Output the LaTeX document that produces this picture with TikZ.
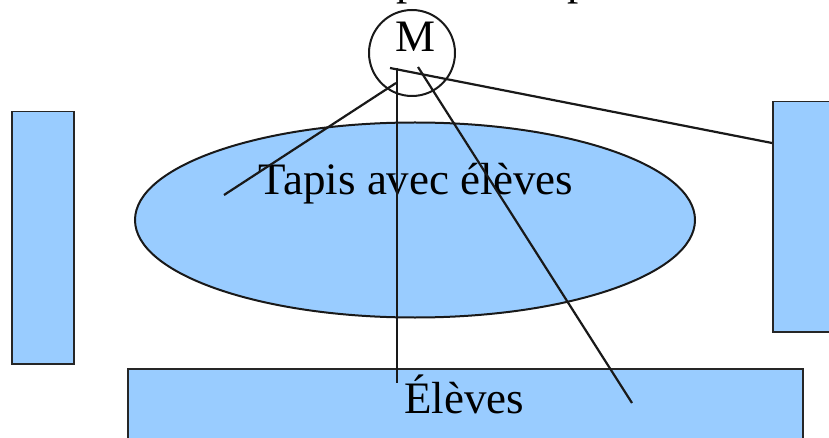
\documentclass[tikz,border=0pt]{standalone}
\usepackage{fontspec}
\setmainfont{Liberation Serif}
\usetikzlibrary{shapes.geometric}
\definecolor{skyfill}{HTML}{99CCFF}
\begin{document}
\begin{tikzpicture}[x=1pt,y=-1pt,
  zone/.style={draw=black!85, fill=skyfill, line width=1.5pt, inner sep=0pt, anchor=north west},
  lbl/.style={font=\fontsize{45}{45}\selectfont, inner sep=0pt, anchor=base},
  link/.style={line width=2.2pt, draw=black!90}]
\useasboundingbox (0,0) rectangle (829,438);
\clip (0,0) rectangle (829,438);
% partial text cut off at the top
\node[lbl, anchor=base west] (pa) at (396,-5) {p};
\node[lbl, anchor=base west] (pb) at (567,-5) {p};
% zones
\node[zone, minimum width=62pt, minimum height=252pt] (left) at (11,111) {};
\node[zone, minimum width=80pt, minimum height=230pt] (right) at (772,101) {};
\node[zone, minimum width=675pt, minimum height=90pt] (bottom) at (127,368) {};
\node[draw=black!90, fill=skyfill, line width=2pt, ellipse, inner sep=0pt,
      minimum width=560pt, minimum height=195pt] (tapis) at (415,220) {};
\node[lbl] (tapislbl) at (416,195) {Tapis avec élèves};
\node[lbl] (eleves) at (464,413) {Élèves};
% teacher
\node[draw=black!90, line width=2pt, circle, minimum size=86pt, inner sep=0pt] (M) at (412,53) {};
\node[lbl] (Mlbl) at (415,52) {M};
% connector points
\coordinate (hub) at (390,68);
\coordinate (vtop) at (397,68);
\coordinate (ltop) at (396,83);
\coordinate (dtop) at (418,67);
\coordinate (rattach) at (772,143);
\coordinate (vend) at (397,383);
\coordinate (lend) at (224,195);
\coordinate (dend) at (632,403);
\draw[link] (hub) -- (rattach);
\draw[link] (vtop) -- (vend);
\draw[link] (ltop) -- (lend);
\draw[link] (dtop) -- (dend);
\end{tikzpicture}
\end{document}
